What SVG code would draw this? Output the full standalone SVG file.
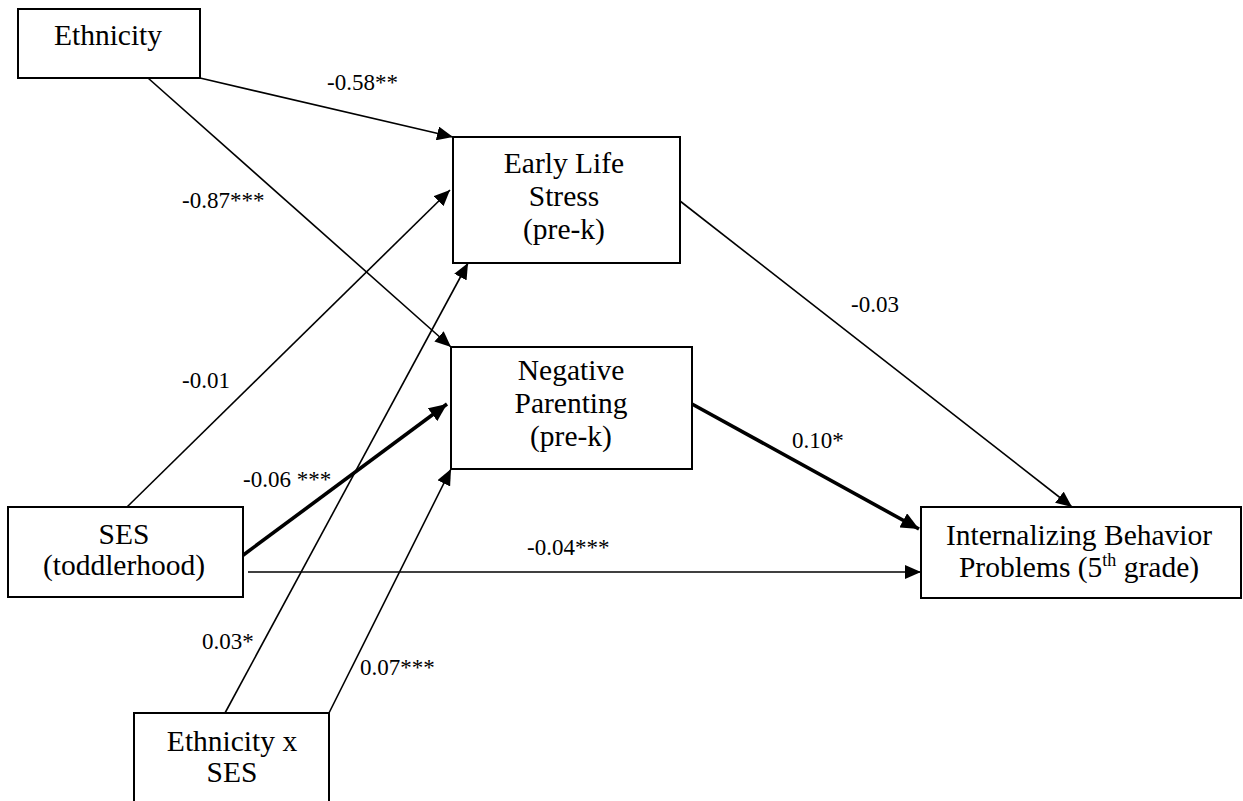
<svg xmlns="http://www.w3.org/2000/svg" width="1243" height="801" viewBox="0 0 1243 801">
<style>
.box{fill:#fff;stroke:#000;stroke-width:2}
.nt{font-family:"Liberation Serif","Times New Roman",serif;font-size:29.5px;fill:#000;text-anchor:middle}
.lb{font-family:"Liberation Serif","Times New Roman",serif;font-size:23px;fill:#000}
.thin{stroke:#000;stroke-width:1.6;fill:none;marker-end:url(#ah)}
.thick{stroke:#000;stroke-width:3.6;fill:none;marker-end:url(#ahb)}
</style>
<defs>
<marker id="ah" markerUnits="userSpaceOnUse" markerWidth="16" markerHeight="14" refX="16" refY="7" orient="auto">
<path d="M0,0 L16,7 L0,14 z" fill="#000"/>
</marker>
<marker id="ahb" markerUnits="userSpaceOnUse" markerWidth="18" markerHeight="16" refX="18" refY="8" orient="auto">
<path d="M0,0 L18,8 L0,16 z" fill="#000"/>
</marker>
</defs>
<rect x="0" y="0" width="1243" height="801" fill="#fff"/>
<g id="connectors">
<line class="thin" x1="200" y1="78" x2="453" y2="137"/>
<line class="thin" x1="148" y1="78" x2="451" y2="347"/>
<line class="thin" x1="127" y1="507" x2="450" y2="190"/>
<line class="thick" x1="242" y1="556" x2="447" y2="404"/>
<line class="thin" x1="248" y1="572" x2="921" y2="572"/>
<line class="thin" x1="225" y1="713" x2="468" y2="263"/>
<line class="thin" x1="329" y1="713" x2="451" y2="469"/>
<line class="thin" x1="680" y1="201" x2="1072" y2="507"/>
<line class="thick" x1="692" y1="404" x2="919" y2="529"/>
<text class="lb" x="327" y="90">-0.58**</text>
<text class="lb" x="182" y="208">-0.87***</text>
<text class="lb" x="182" y="388">-0.01</text>
<text class="lb" x="243" y="487">-0.06 ***</text>
<text class="lb" x="527" y="555">-0.04***</text>
<text class="lb" x="202" y="649">0.03*</text>
<text class="lb" x="360" y="675">0.07***</text>
<text class="lb" x="851" y="312">-0.03</text>
<text class="lb" x="792" y="448">0.10*</text>
</g>
<g id="ethnicity">
<rect class="box" x="18" y="9" width="182" height="69"/>
<text class="nt" x="108" y="45">Ethnicity</text>
</g>
<g id="early-life-stress">
<rect class="box" x="453" y="137" width="227" height="126"/>
<text class="nt" x="564" y="173">Early Life</text>
<text class="nt" x="564" y="206">Stress</text>
<text class="nt" x="564" y="239">(pre-k)</text>
</g>
<g id="negative-parenting">
<rect class="box" x="451" y="347" width="241" height="122"/>
<text class="nt" x="571" y="380">Negative</text>
<text class="nt" x="571" y="413">Parenting</text>
<text class="nt" x="571" y="446">(pre-k)</text>
</g>
<g id="ses">
<rect class="box" x="8" y="507" width="235" height="90"/>
<text class="nt" x="124" y="544">SES</text>
<text class="nt" x="124" y="575">(toddlerhood)</text>
</g>
<g id="internalizing">
<rect class="box" x="921" y="507" width="320" height="91"/>
<text class="nt" x="1079" y="545">Internalizing Behavior</text>
<text class="nt" x="1079" y="577">Problems (5<tspan font-size="18" dy="-11">th</tspan><tspan dy="11"> grade)</tspan></text>
</g>
<g id="ethnicity-x-ses">
<rect class="box" x="134" y="713" width="195" height="100"/>
<text class="nt" x="232" y="751">Ethnicity x</text>
<text class="nt" x="232" y="782">SES</text>
</g>
</svg>
